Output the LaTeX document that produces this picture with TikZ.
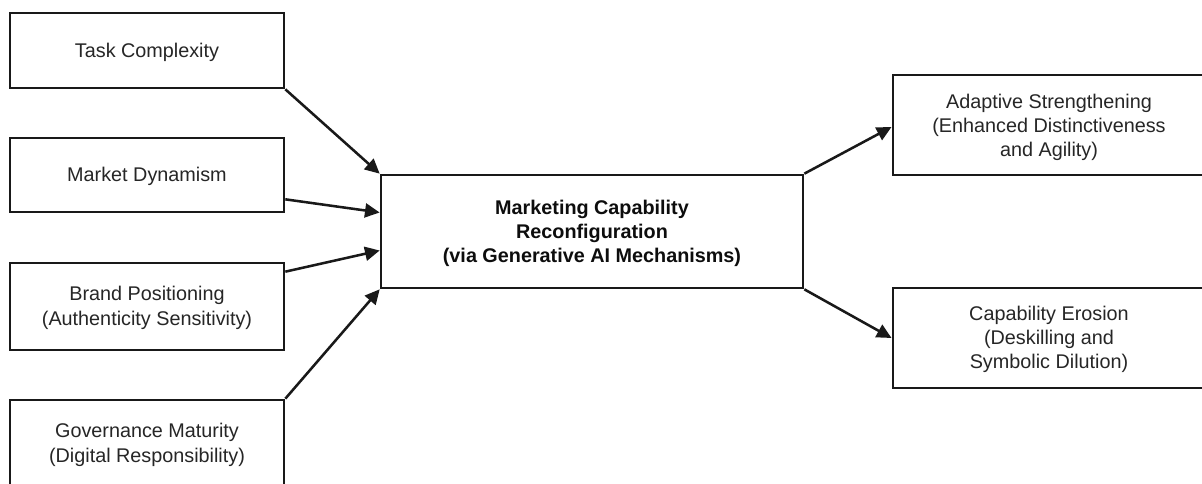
\documentclass[tikz,border=0pt]{standalone}
\usepackage{fontspec}
\setmainfont{Liberation Sans}
\usetikzlibrary{arrows.meta,calc}
\tikzset{
  x=0.75pt,y=-0.75pt,
  box/.style={draw=black!90,line width=2pt,fill=white,inner sep=0pt},
  boxtext/.style={align=center,inner sep=0pt,font=\fontsize{14.85}{18.6}\selectfont,text=black!85},
  righttext/.style={boxtext,font=\fontsize{14.85}{17.9}\selectfont},
  coretext/.style={boxtext,font=\fontsize{14.85}{18}\selectfont\bfseries,text=black!95},
  link/.style={draw=black!90,line width=1.9pt,-{Triangle[length=11pt,width=10.5pt]}}
}
\begin{document}
\begin{tikzpicture}
\useasboundingbox (0,0) rectangle (1202,484);
\clip (0,0) rectangle (1202,484);
\node[box,minimum width=205.5pt,minimum height=56.25pt] (task) at (147,50.5) {};
\node[box,minimum width=205.5pt,minimum height=55.5pt] (market) at (147,175) {};
\node[box,minimum width=205.5pt,minimum height=65.25pt] (brand) at (147,306.5) {};
\node[box,minimum width=205.5pt,minimum height=67.5pt] (gov) at (147,445) {};
\node[box,minimum width=316.5pt,minimum height=84.75pt] (center) at (592,231.5) {};
\node[box,minimum width=235pt,minimum height=75pt] (adapt) at (1049.5,125) {};
\node[box,minimum width=235pt,minimum height=75pt] (erosion) at (1049.5,338) {};
\node[boxtext] (tasklabel) at (147,52) {Task Complexity};
\node[boxtext] (marketlabel) at (147,176) {Market Dynamism};
\node[boxtext] (brandlabel) at (147,308) {Brand Positioning\\(Authenticity Sensitivity)};
\node[boxtext] (govlabel) at (147,444.5) {Governance Maturity\\(Digital Responsibility)};
\node[coretext] (centerlabel) at (592,233) {Marketing Capability\\Reconfiguration\\(via Generative AI Mechanisms)};
\node[righttext] (adaptlabel) at (1049,127.5) {Adaptive Strengthening\\(Enhanced Distinctiveness\\and Agility)};
\node[righttext] (erosionlabel) at (1049,339.5) {Capability Erosion\\(Deskilling and\\Symbolic Dilution)};
\draw[link] (task.south east) -- (center.north west);
\draw[link] ($(market.south east)+(0,-14)$) -- ($(center.west)+(0,-19)$);
\draw[link] ($(brand.north east)+(0,10)$) -- ($(center.west)+(0,19)$);
\draw[link] (gov.north east) -- (center.south west);
\draw[link] (center.north east) -- ($(adapt.west)+(0,2)$);
\draw[link] (center.south east) -- (erosion.west);
\end{tikzpicture}
\end{document}
